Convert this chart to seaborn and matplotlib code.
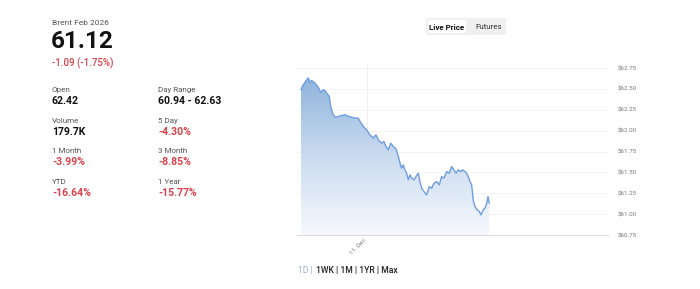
import numpy as np
import pandas as pd
import matplotlib
matplotlib.use("Agg")
import matplotlib.pyplot as plt
import seaborn as sns
from matplotlib.colors import LinearSegmentedColormap
from matplotlib.patches import FancyBboxPatch

# ---- data ----
title = "Brent Feb 2026"
last_price = "61.12"
change_text = "-1.09 (-1.75%)"
stat_labels = ["Open", "Volume", "1 Month", "YTD", "Day Range", "5 Day", "3 Month", "1 Year"]
stat_values = ["62.42", "179.7K", "-3.99%", "-16.64%", "60.94 - 62.63", "-4.30%", "-8.85%", "-15.77%"]

hours = [-5.09, -4.91, -4.65, -4.53, -4.40, -4.27, -4.01, -3.76, -3.57, -3.37, -3.24, -3.11,
         -2.91, -2.80, -2.65, -2.47, -2.21, -1.95, -1.70, -1.44, -1.18, -0.93, -0.67, -0.54,
         -0.28, -0.03, 0.23, 0.49, 0.69, 0.87, 1.13, 1.31, 1.47, 1.65, 1.83, 2.03, 2.24, 2.42,
         2.55, 2.67, 2.80, 2.93, 3.06, 3.19, 3.32, 3.45, 3.63, 3.78, 3.96, 4.09, 4.22, 4.40,
         4.60, 4.81, 4.99, 5.17, 5.38, 5.58, 5.76, 5.94, 6.15, 6.35, 6.53, 6.71, 6.87, 7.05,
         7.23, 7.38, 7.56, 7.69, 7.82, 7.95, 8.08, 8.20, 8.33, 8.51, 8.67, 8.80, 8.97, 9.10,
         9.24, 9.34, 9.44]
prices = [62.49, 62.55, 62.61, 62.63, 62.58, 62.60, 62.57, 62.52, 62.46, 62.49, 62.48, 62.45,
          62.41, 62.29, 62.21, 62.16, 62.17, 62.18, 62.19, 62.17, 62.16, 62.15, 62.15, 62.11,
          62.05, 62.01, 61.95, 61.91, 61.95, 61.89, 61.85, 61.87, 61.81, 61.77, 61.85, 61.81,
          61.78, 61.69, 61.61, 61.55, 61.59, 61.53, 61.49, 61.41, 61.47, 61.43, 61.41, 61.45,
          61.49, 61.39, 61.31, 61.27, 61.23, 61.33, 61.31, 61.37, 61.39, 61.35, 61.45, 61.43,
          61.51, 61.49, 61.57, 61.53, 61.49, 61.53, 61.51, 61.53, 61.51, 61.49, 61.45, 61.39,
          61.35, 61.17, 61.09, 61.05, 61.03, 60.99, 61.05, 61.07, 61.13, 61.21, 61.13]
y_ticks = [60.75, 61.00, 61.25, 61.50, 61.75, 62.00, 62.25, 62.50, 62.75]
x_tick_label = "11. Dec"
range_buttons = ["1D", "1WK", "1M", "1YR", "Max"]

df = pd.DataFrame({"hour": hours, "price": prices})

sns.set_theme(style="white")
plt.rcParams["font.family"] = ["Roboto", "DejaVu Sans"]

W, H = 700, 289
fig = plt.figure(figsize=(7, 2.89), dpi=100)

def fx(px):
    return px / W

def fy(py):
    return 1 - py / H

# ---- left text panel ----
fig.text(fx(52), fy(23), title, fontsize=6, color="#555555", va="center", ha="left")
fig.text(fx(51), fy(42), last_price, fontsize=17.5, color="#111111", fontweight="bold", va="center", ha="left")
fig.text(fx(52), fy(63), change_text, fontsize=7, color="#d9434b", fontweight="medium", va="center", ha="left")

col_x = [52, 158]
row_y = [90, 121, 151, 182]
for i, (lab, val) in enumerate(zip(stat_labels, stat_values)):
    c = i // 4
    r = i % 4
    fig.text(fx(col_x[c]), fy(row_y[r]), lab, fontsize=5.8, color="#555555", va="center", ha="left")
    red = val.startswith("-")
    fig.text(fx(col_x[c]), fy(row_y[r] + 11), val, fontsize=7.6, fontweight="bold",
             color="#d9434b" if red else "#111111", va="center", ha="left")

# ---- toggle ----
fig.patches.append(FancyBboxPatch((fx(426), fy(35)), fx(80), 17 / H, boxstyle="round,pad=0,rounding_size=0.004",
                                  transform=fig.transFigure, facecolor="#f0f0f0", edgecolor="none"))
fig.patches.append(FancyBboxPatch((fx(428), fy(33)), fx(38), 13 / H, boxstyle="round,pad=0,rounding_size=0.003",
                                  transform=fig.transFigure, facecolor="white", edgecolor="none"))
fig.text(fx(447), fy(27), "Live Price", fontsize=5.8, fontweight="bold", color="#111111", ha="center", va="center")
fig.text(fx(489), fy(27), "Futures", fontsize=5.8, color="#333333", ha="center", va="center")

# ---- chart ----
ax = fig.add_axes([fx(297), fy(235), fx(311), (235 - 64) / H])
x_lo, x_hi = -5.4, 18.6
y_lo, y_hi = 60.75, 62.798
ax.set_xlim(x_lo, x_hi)
ax.set_ylim(y_lo, y_hi)

# gradient fill under the curve
cmap = LinearSegmentedColormap.from_list("g", ["#f6f9fd", "#cbdcf0", "#8fb4dc"])
poly_x = [hours[0]] + hours + [hours[-1]]
poly_y = [y_lo] + prices + [y_lo]
patch = ax.fill(poly_x, poly_y, facecolor="none", edgecolor="none")[0]
grad = np.linspace(0, 1, 256).reshape(-1, 1)
img = ax.imshow(grad, extent=[hours[0], hours[-1], y_lo, max(prices)], origin="lower",
                aspect="auto", cmap=cmap, zorder=1)
img.set_clip_path(patch)

sns.lineplot(data=df, x="hour", y="price", ax=ax, color="#6f9de0", linewidth=1.0, zorder=3)

for yt in y_ticks[1:]:
    ax.axhline(yt, color="#f3f3f3", linewidth=0.6, zorder=0)
ax.axvline(0, color="#eeeeee", linewidth=0.6, zorder=0)

for s in ["top", "left", "right"]:
    ax.spines[s].set_visible(False)
ax.spines["bottom"].set_color("#dddddd")
ax.spines["bottom"].set_linewidth(0.8)

ax.yaxis.tick_right()
ax.set_yticks(y_ticks)
ax.set_yticklabels([f"${v:.2f}" for v in y_ticks], fontsize=4.5, color="#777777")
ax.tick_params(axis="y", length=0, pad=7)
ax.set_xticks([0])
ax.set_xticklabels([x_tick_label], rotation=45, ha="right", fontsize=4.5, color="#777777")
ax.tick_params(axis="x", length=0, pad=2)
ax.set_xlabel("")
ax.set_ylabel("")
ax.grid(False)

# ---- range buttons ----
first = fig.text(fx(298), fy(270), range_buttons[0] + " |", fontsize=6.2, color="#9fb0c4",
                 ha="left", va="center")
fig.canvas.draw()
x_next = first.get_window_extent().x1 + 3
fig.text(x_next / W, fy(270), " | ".join(range_buttons[1:]), fontsize=6.2, color="#222222",
         fontweight="medium", ha="left", va="center")

fig.savefig("out.png", dpi=100, facecolor="white")
